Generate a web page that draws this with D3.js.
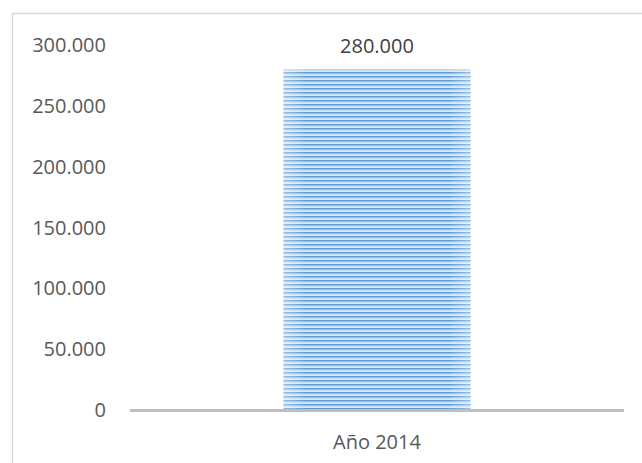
<!DOCTYPE html>
<html>
<head>
<meta charset="utf-8">
<script src="https://cdn.jsdelivr.net/npm/d3@7"></script>
<style>
body{margin:0;background:#fff}
text{font-family:"Open Sans",sans-serif}
</style>
</head>
<body>
<div id="chart"></div>
<script>
// datos
var categories = ["Año 2014"]
var values = [280000]
var tickValues = [0, 50000, 100000, 150000, 200000, 250000, 300000]

var W = 642, H = 463
var fmt = function(v){ return d3.format(",")(v).replace(/,/g, ".") }

var svg = d3.select("#chart").append("svg").attr("width", W).attr("height", H)

// borde del area del grafico
svg.append("rect").attr("x", 12.5).attr("y", 13.5).attr("width", 660).attr("height", 470)
  .attr("fill", "none").attr("stroke", "#d9d9d9").attr("stroke-width", 1.5)

var defs = svg.append("defs")
var pat = defs.append("pattern").attr("id", "stripes").attr("patternUnits", "userSpaceOnUse")
  .attr("width", 8).attr("height", 4)
pat.append("rect").attr("width", 8).attr("height", 4).attr("fill", "#dbe8f6")
pat.append("rect").attr("y", 0).attr("width", 8).attr("height", 1.6).attr("fill", "#5b9bd5")
pat.append("rect").attr("y", 1.6).attr("width", 8).attr("height", 0.8).attr("fill", "#a9c9ea")

var grad = defs.append("linearGradient").attr("id", "edge").attr("x1", 0).attr("x2", 1)
grad.append("stop").attr("offset", 0).attr("stop-color", "#fff").attr("stop-opacity", 0.35)
grad.append("stop").attr("offset", 0.12).attr("stop-color", "#fff").attr("stop-opacity", 0)
grad.append("stop").attr("offset", 0.88).attr("stop-color", "#fff").attr("stop-opacity", 0)
grad.append("stop").attr("offset", 1).attr("stop-color", "#fff").attr("stop-opacity", 0.35)

var x = d3.scaleBand().domain(categories).range([130, 624]).paddingInner(0.451).paddingOuter(0.451)
var y = d3.scaleLinear().domain([0, 300000]).range([410, 45])

// eje y (solo etiquetas)
svg.append("g").selectAll("text").data(tickValues).enter().append("text")
  .attr("x", 106).attr("y", function(d){ return y(d) })
  .attr("dy", "0.35em").attr("text-anchor", "end")
  .attr("fill", "#595959").style("font-size", "20px")
  .text(function(d){ return fmt(d) })

// barras
svg.append("g").selectAll("rect").data(values).enter().append("rect")
  .attr("x", function(d, i){ return x(categories[i]) })
  .attr("y", function(d){ return y(d) })
  .attr("width", x.bandwidth())
  .attr("height", function(d){ return y(0) - y(d) })
  .attr("fill", "url(#stripes)")
svg.append("g").selectAll("rect").data(values).enter().append("rect")
  .attr("x", function(d, i){ return x(categories[i]) })
  .attr("y", function(d){ return y(d) })
  .attr("width", x.bandwidth())
  .attr("height", function(d){ return y(0) - y(d) })
  .attr("fill", "url(#edge)")

// etiquetas de datos
svg.append("g").selectAll("text").data(values).enter().append("text")
  .attr("x", function(d, i){ return x(categories[i]) + x.bandwidth() / 2 })
  .attr("y", function(d){ return y(d) - 23 })
  .attr("dy", "0.35em").attr("text-anchor", "middle")
  .attr("fill", "#404040").style("font-size", "20px")
  .text(function(d){ return fmt(d) })

// eje x
svg.append("line").attr("x1", 130).attr("x2", 624).attr("y1", y(0) + 0.5).attr("y2", y(0) + 0.5)
  .attr("stroke", "#bfbfbf").attr("stroke-width", 3)

svg.append("g").selectAll("text").data(categories).enter().append("text")
  .attr("x", function(d){ return x(d) + x.bandwidth() / 2 })
  .attr("y", 442).attr("dy", "0.35em").attr("text-anchor", "middle")
  .attr("fill", "#595959").style("font-size", "20px")
  .text(function(d){ return d })
</script>
</body>
</html>
